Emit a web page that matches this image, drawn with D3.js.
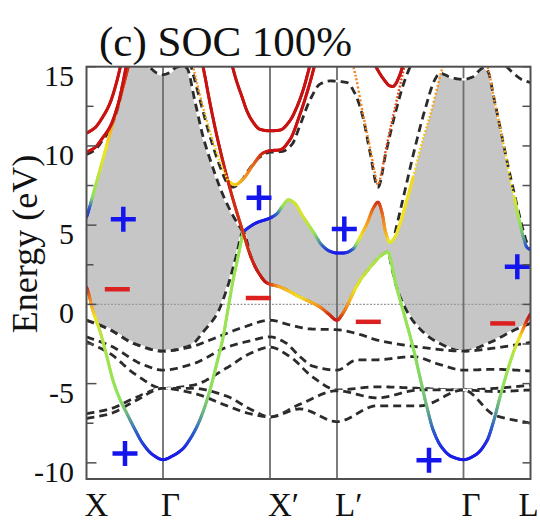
<!DOCTYPE html>
<html><head><meta charset="utf-8">
<script src="https://cdn.jsdelivr.net/npm/d3@7/dist/d3.min.js"></script>
<style>html,body{margin:0;padding:0;background:#fff}svg{display:block}</style>
</head><body>
<svg id="c" width="540" height="526"></svg>
<script>
// ---------------- data ----------------
// k-path distance (arbitrary units) of high-symmetry points
const kPoints = [0, 76.5, 183.5, 250.5, 377, 444];
const kLabels = ["X", "Γ", "X′", "L′", "Γ", "L"];
const yMajor = [-10, -5, 0, 5, 10, 15];
const yMinor = [-7.5, -2.5, 2.5, 7.5, 12.5];
const titleText = "(c) SOC 100%";
const yTitle = "Energy (eV)";

// shaded region: [k, E]
const grayTop = [[0,5.5],[2.5,6.0],[6,6.8],[13.5,8.5],[20.5,10.1],[26.5,11.5],[33.5,13.0],[43,15.3],[50,15.8],[57,15.4],[63.5,14.95],[70,14.62],[76.5,14.5],[83,14.62],[89.5,14.95],[96.5,15.05],[100.5,14.9],[108.5,12.8],[116.5,10.6],[126.5,8.6],[136.5,6.9],[146.5,5.6],[156.5,4.56],[160,4.75],[170,5.15],[183.5,5.45],[190,5.7],[196,6.2],[202,6.6],[208,6.4],[216,5.6],[226.5,4.6],[236,3.7],[243.5,3.35],[250.5,3.24],[258,3.25],[266.5,3.5],[274,4.3],[280.5,5.1],[287,6.1],[291.5,6.45],[295.5,5.8],[299,4.6],[303.5,3.9],[308,4.2],[313.5,5.1],[320,6.5],[326.5,8.0],[335,10.1],[343.5,11.9],[350,13.5],[353.5,14.5],[358,14.5],[365,14.3],[377,14.2],[386,14.35],[393.5,14.8],[397.5,14.95],[401.5,14.7],[407.5,13.1],[413.5,11.3],[419.5,9.3],[425.5,7.35],[433.5,5.2],[440.5,3.6],[444,3.5]];
const grayBottom = [[0,1.1],[2.5,0.6],[5.5,-0.2],[9,-0.9],[13.5,-1.3],[23.5,-1.6],[48.5,-2.5],[76.5,-2.95],[103.5,-2.6],[118.5,-1.6],[130.5,-0.6],[141.5,1.2],[149.5,3.0],[156.5,4.56],[165,2.9],[172,2.0],[180.5,1.35],[193.5,1.1],[213.5,0.46],[233.5,-0.17],[242,-0.6],[250.5,-1.0],[255,-0.7],[260.5,-0.1],[266.5,0.7],[273.5,1.5],[280.5,2.1],[288.5,2.7],[295,3.1],[301.5,3.3],[305,2.4],[309.5,1.2],[318.5,-0.2],[328.5,-1.2],[348.5,-2.3],[377,-2.95],[403.5,-2.4],[428.5,-1.6],[444,-1.2]];

// black dashed bands: [k, E]
const dashUp1 = [[43,15.4],[50,15.6],[57,15.35],[63.5,14.95],[70,14.62],[76.5,14.5],[83,14.62],[89.5,14.95],[96.5,15.05],[100.5,14.9],[108.5,12.8],[116.5,10.6],[126.5,8.6],[136.5,6.9],[146.5,5.6],[156.5,4.56]];
const dashUp2 = [[103.5,15.3],[113.5,12.9],[123.5,10.6],[133.5,8.7],[140.5,7.7],[146.5,7.4],[153.5,7.7],[163.5,8.6],[173.5,9.3],[183.5,9.6],[195.5,9.65],[205.5,10.1],[213.5,11.3],[223.5,12.9],[233.5,13.9],[243.5,14.1],[260.5,14.0],[268.5,13.3],[276.5,11.8],[283.5,9.6],[291.5,7.4],[299.5,9.6],[308.5,12.0],[317.5,14.0],[325.5,15.3]];
const dashUp3 = [[308.5,4.5],[318.5,7.2],[328.5,9.9],[338.5,12.3],[348.5,14.2],[353.5,14.6],[358,14.5],[365,14.3],[377,14.2],[386,14.35],[393.5,14.8],[397.5,14.95],[401.5,14.7],[407.5,13.0],[413.5,11.2],[420,9.2],[430.5,6.25],[437,4.6],[440.5,3.9],[444,3.6]];
const dashUp4 = [[410,15.6],[418.5,15.1],[428.5,14.5],[436.5,14.15],[444,14.0]];
const dashUp5 = [[0,9.45],[8.5,9.75],[16,10.35],[23.5,11.05],[31.5,12.45],[36.5,13.85],[40.5,15.2]];
const dashV1 = [[0,-1.0],[13.5,-1.3],[23.5,-1.6],[48.5,-2.5],[76.5,-2.95],[103.5,-2.6],[118.5,-1.6],[130.5,-0.6],[141.5,1.2],[149.5,3.0],[156.5,4.56],[165,2.9],[172,2.0],[180.5,1.35],[193.5,1.1],[213.5,0.46],[233.5,-0.17],[242,-0.6],[250.5,-1.0],[255,-0.7],[260.5,-0.1],[266.5,0.7],[273.5,1.5],[280.5,2.1],[288.5,2.7],[295,3.1],[301.5,3.3],[305,2.4],[309.5,1.2],[318.5,-0.2],[328.5,-1.2],[348.5,-2.3],[377,-2.95],[403.5,-2.4],[428.5,-1.6],[444,-1.2]];
const dashV2 = [[0,-1.0],[23.5,-1.6],[48.5,-2.5],[76.5,-2.95],[103.5,-2.7],[123.5,-2.25],[156.5,-1.45],[183.5,-1.0],[203.5,-1.3],[223.5,-1.55],[250.5,-1.6],[273.5,-1.9],[290.5,-2.25],[333.5,-2.7],[377,-2.95],[408.5,-2.75],[444,-2.4]];
const dashV3 = [[0,-2.05],[23.5,-2.6],[56.5,-3.8],[76.5,-4.15],[106.5,-3.75],[140.5,-2.7],[163.5,-2.3],[183.5,-2.05],[198.5,-2.4],[213.5,-3.3],[226.5,-3.9],[250.5,-4.15],[270.5,-3.5],[288.5,-3.5],[326.5,-3.3],[353.5,-3.8],[377,-4.15],[408.5,-4.1],[444,-4.2]];
const dashV4 = [[0,-2.35],[23.5,-3.1],[48.5,-4.4],[76.5,-5.3],[106.5,-5.1],[140.5,-4.0],[163.5,-3.1],[183.5,-2.7],[203.5,-3.3],[226.5,-4.6],[250.5,-5.4],[290.5,-5.2],[333.5,-5.3],[377,-5.4],[408.5,-5.3],[444,-5.1]];
const dashV5 = [[0,-6.9],[23.5,-6.6],[48.5,-5.9],[76.5,-5.3],[106.5,-5.3],[140.5,-5.8],[163.5,-6.6],[183.5,-7.1],[213.5,-6.3],[250.5,-5.45],[290.5,-5.9],[333.5,-5.4],[377,-5.4],[408.5,-5.5],[444,-5.4]];
const dashV6 = [[0,-7.2],[23.5,-6.9],[48.5,-6.1],[76.5,-5.3],[106.5,-5.6],[140.5,-6.4],[163.5,-6.9],[183.5,-7.1],[213.5,-6.6],[250.5,-7.4],[290.5,-6.4],[333.5,-6.4],[377,-5.4],[408.5,-7.0],[444,-7.5]];

// coloured (orbital-weighted) bands: [k, E, weight 0=blue .. 1=red]
const bandLeftEdge = [[0,5.5,0.0],[2.5,6.0,0.12],[6,6.8,0.35],[13.5,8.5,0.47],[20.5,10.1,0.56],[26.5,11.5,0.72],[33.5,13.0,0.85],[43,15.3,0.95]];
const bandRed1 = [[0,10.8,1],[8.5,11.15,1],[16,11.8,1],[23.5,12.7,1],[30,14.0,1],[35,15.3,1]];
const bandRed2 = [[0,9.6,1],[8.5,9.9,1],[16,10.5,1],[23.5,11.2,1],[31.5,12.6,1],[36.5,14.0,1],[40.5,15.3,1]];
const bandLow = [[0,1.1,1.0],[2.5,0.6,0.85],[5.5,-0.2,0.68],[9,-0.9,0.55],[13.5,-1.7,0.45],[20,-3.2,0.4],[26.5,-4.8,0.38],[33.5,-6.0,0.36],[40.5,-6.9,0.3],[48.5,-7.9,0.2],[56.5,-8.8,0.1],[66.5,-9.5,0.02],[76.5,-9.8,0.0],[86.5,-9.55,0.0],[96.5,-9.1,0.03],[103.5,-8.5,0.1],[110.5,-7.7,0.2],[117,-6.7,0.3],[123.5,-5.4,0.35],[130,-3.8,0.37],[136.5,-2.1,0.38],[141.5,-0.3,0.38],[146.5,1.5,0.38],[151.5,3.0,0.38],[156.5,4.56,0.37]];
const bandGap = [[156.5,4.56,0.1],[160,4.75,0.05],[170,5.15,0.0],[183.5,5.45,0.0],[190,5.7,0.15],[196,6.2,0.35],[202,6.6,0.42],[208,6.4,0.48],[216,5.6,0.5],[226.5,4.6,0.4],[236,3.7,0.2],[243.5,3.35,0.05],[250.5,3.24,0.0],[258,3.25,0.0],[266.5,3.5,0.15],[274,4.3,0.55],[280.5,5.1,0.7],[287,6.1,0.85],[291.5,6.45,0.95],[295.5,5.8,0.85],[299,4.6,0.7],[303.5,3.9,0.5],[308,4.2,0.52],[313.5,5.1,0.55],[320,6.5,0.56],[326.5,8.0,0.58]];
const bandGapTop = [[326.5,8.0,0.58],[335,10.1,0.62],[343.5,11.9,0.68],[350,13.5,0.72],[356.5,15.1,0.76]];
const bandCross = [[113.5,15.8,1.0],[116.5,15.0,1.0],[123.5,12.7,1.0],[130.5,10.6,1.0],[143.5,7.3,0.96],[156.5,4.56,0.93],[165,2.9,0.96],[172,2.0,0.98],[180.5,1.35,1.0],[193.5,1.1,0.7],[213.5,0.46,0.56],[233.5,-0.17,0.75],[242,-0.6,0.92],[250.5,-1.0,1.0],[255,-0.7,0.9],[260.5,-0.1,0.75],[266.5,0.7,0.6],[273.5,1.5,0.5],[280.5,2.1,0.45],[288.5,2.7,0.42],[295,3.1,0.4],[301.5,3.3,0.38],[304.5,2.7,0.38],[308.5,1.5,0.37],[317.5,-0.6,0.37],[326.5,-2.7,0.36],[333.5,-4.6,0.34],[340.5,-6.5,0.3],[346.5,-7.9,0.18],[355,-9.0,0.05],[365,-9.6,0.0],[377,-9.8,0.0],[389,-9.5,0.0],[400.5,-8.6,0.05],[407,-7.4,0.2],[413.5,-5.85,0.33],[420,-4.4,0.38],[426.5,-3.1,0.42],[433.5,-2.0,0.55],[437,-1.5,0.75],[440.5,-1.0,0.95],[444,-0.6,1.0]];
const bandUpOrange = [[105.5,15.3,0.78],[113.5,13.2,0.72],[123.5,10.9,0.64],[133.5,9.0,0.58],[141.5,7.8,0.55]];
const bandUpX = [[141.5,7.8,0.55],[148.5,7.55,0.6],[156.5,7.9,0.7],[166.5,8.8,0.82],[176.5,9.55,0.95],[183.5,9.7,1.0],[193.5,9.75,1.0],[203.5,10.4,1.0],[213.5,12.0,1.0],[223.5,14.0,1.0],[229,15.3,1.0]];
const bandU1 = [[145.5,15.1,1],[150,14.1,1],[155.5,13.1,1],[160.5,12.2,1],[165.5,11.6,1],[173.5,11.05,1],[183.5,10.95,1],[193.5,11.0,1],[203.5,11.6,1],[210,12.4,1],[216.5,13.5,1],[223.5,15.1,1]];
const bandV = [[264,15.6,0.78],[268.5,14.6,0.78],[276.5,12.0,0.77],[283.5,9.9,0.76],[288,8.4,0.78],[291.5,7.55,0.82],[295,8.3,0.85],[299.5,9.8,0.88],[308.5,12.4,0.9],[318.5,15.2,0.9]];
const bandU2 = [[288.5,15.1,1],[294,14.5,1],[298.5,14.1,1],[303,13.8,1],[306.5,13.75,1],[309,13.9,1],[311.5,14.2,1],[314,14.6,1],[316.5,15.1,1]];
const bandRightTop = [[398.5,15.4,0.8],[401.5,14.9,0.78],[407.5,13.0,0.74],[413.5,11.2,0.7],[419.5,9.3,0.62],[425.5,7.35,0.55],[428,6.7,0.5]];
const bandRightLow = [[428,6.7,0.5],[430,6.1,0.45],[433.5,5.1,0.37],[437,4.2,0.28],[440.5,3.6,0.15],[444,3.45,0.08]];

// parity labels: [k, E]
const plusMarks = [[36.8,5.38],[172.5,6.73],[257.8,4.75],[430.8,2.37],[38.5,-9.41],[342.5,-9.83]];
const minusMarks = [[30.8,0.95],[171.8,0.4],[281.8,-1.1],[416.2,-1.2]];

// ---------------- drawing ----------------
const svg = d3.select("#c");
const L = 86.5, R = 530.5, T = 66.7, B = 479;
const x = d3.scaleLinear().domain([0, 444]).range([L, R]);
const y = d3.scaleLinear().domain([-11.02, 15]).range([B, T]);
const color = d3.scaleLinear()
  .domain([0, 0.18, 0.36, 0.55, 0.75, 1])
  .range(["#1a1ae8", "#2f64c8", "#8fe35a", "#f2e51e", "#f5901f", "#c91212"]);

function makeInterp(pts) {
  const n = pts.length, X = pts.map(p => p[0]), Y = pts.map(p => p[1]);
  const dx = [], m = [];
  for (let i = 0; i < n - 1; i++) { dx.push(X[i+1] - X[i]); m.push((Y[i+1] - Y[i]) / dx[i]); }
  const c = [m[0]];
  for (let i = 1; i < n - 1; i++) {
    if (m[i-1] * m[i] <= 0) c.push(0);
    else { const cm = dx[i-1] + dx[i]; c.push(3 * cm / ((cm + dx[i]) / m[i-1] + (cm + dx[i-1]) / m[i])); }
  }
  c.push(m[n-2]);
  return s => {
    if (s <= X[0]) return Y[0];
    if (s >= X[n-1]) return Y[n-1];
    let i = d3.bisectRight(X, s) - 1; if (i > n - 2) i = n - 2;
    const h = dx[i], t = (s - X[i]) / h, t2 = t*t, t3 = t2*t;
    return (2*t3 - 3*t2 + 1) * Y[i] + (t3 - 2*t2 + t) * h * c[i] + (-2*t3 + 3*t2) * Y[i+1] + (t3 - t2) * h * c[i+1];
  };
}
function sample(pts, step) {
  const f = makeInterp(pts), a = pts[0][0], b = pts[pts.length-1][0], out = [];
  for (let s = a; s < b; s += step) out.push([s, f(s)]);
  out.push([b, f(b)]);
  return out;
}

svg.append("defs").append("clipPath").attr("id", "clip")
  .append("rect").attr("x", L).attr("y", T).attr("width", R - L).attr("height", B - T);
const plot = svg.append("g").attr("clip-path", "url(#clip)");

// shaded region
const fTop = makeInterp(grayTop), fBot = makeInterp(grayBottom);
const grid = d3.range(0, 444.01, 0.5);
plot.append("path")
  .attr("d", d3.area().x(s => x(s)).y0(s => y(fBot(s))).y1(s => y(fTop(s)))(grid))
  .attr("fill", "#c6c6c6");

// zero line
plot.append("line").attr("x1", L).attr("x2", R).attr("y1", y(0)).attr("y2", y(0))
  .attr("stroke", "#9a9a9a").attr("stroke-width", 1.3).attr("stroke-dasharray", "2,1.5");

// vertical lines
plot.selectAll(null).data(kPoints.slice(1, -1)).join("line")
  .attr("x1", d => x(d)).attr("x2", d => x(d)).attr("y1", T).attr("y2", B)
  .attr("stroke", "#6e6e6e").attr("stroke-width", 1.8);

// dashed bands
const dashed = [dashUp1, dashUp2, dashUp3, dashUp4, dashUp5, dashV1, dashV2, dashV3, dashV4, dashV5, dashV6];
const lineGen = d3.line().x(d => x(d[0])).y(d => y(d[1]));
dashed.forEach(b => {
  const d = lineGen(sample(b, 0.5));
  plot.append("path").attr("d", d).attr("fill", "none").attr("stroke", "#fff").attr("stroke-width", 2.2);
  plot.append("path").attr("d", d).attr("fill", "none").attr("stroke", "#2b2b2b")
    .attr("stroke-width", 2.8).attr("stroke-dasharray", "8,5");
});

// coloured bands
function drawColored(pts, dotted) {
  const f = makeInterp(pts.map(p => [p[0], p[1]]));
  const wf = d3.scaleLinear().domain(pts.map(p => p[0])).range(pts.map(p => p[2])).clamp(true);
  const a = pts[0][0], b = pts[pts.length-1][0];
  const P = [];
  for (let s = a; s < b; s += 0.1) P.push([x(s), y(f(s)), wf(s)]);
  P.push([x(b), y(f(b)), wf(b)]);
  const segLen = dotted ? 1.7 : 1.5, segs = [];
  let start = 0, acc = 0, k = 0;
  for (let i = 1; i < P.length; i++) {
    acc += Math.hypot(P[i][0] - P[i-1][0], P[i][1] - P[i-1][1]);
    if (acc >= segLen || i === P.length - 1) {
      segs.push({ pts: P.slice(start, i + 1), w: (P[start][2] + P[i][2]) / 2, k: k++ });
      start = i; acc = 0;
    }
  }
  const use = dotted ? segs.filter(s => s.k % 2 === 0) : segs;
  plot.append("g").selectAll("path").data(use).join("path")
    .attr("d", d => d3.line()(d.pts.map(p => [p[0], p[1]])))
    .attr("fill", "none").attr("stroke", d => color(d.w))
    .attr("stroke-width", dotted ? 2.4 : 3).attr("stroke-linecap", dotted ? "butt" : "round");
}
[bandUpX, bandLeftEdge, bandLow, bandGap, bandCross, bandRightLow].forEach(b => drawColored(b, false));
[bandUpOrange, bandV, bandGapTop, bandRightTop].forEach(b => drawColored(b, true));
[bandRed1, bandRed2, bandU1, bandU2].forEach(b => drawColored(b, false));

// parity markers
const hs = 12.5;
plot.selectAll(null).data(plusMarks).join("path")
  .attr("d", d => `M${x(d[0]) - hs},${y(d[1])}H${x(d[0]) + hs}M${x(d[0])},${y(d[1]) - hs}V${y(d[1]) + hs}`)
  .attr("stroke", "#1414ee").attr("stroke-width", 4.5).attr("fill", "none");
plot.selectAll(null).data(minusMarks).join("path")
  .attr("d", d => `M${x(d[0]) - hs},${y(d[1])}H${x(d[0]) + hs}`)
  .attr("stroke", "#dc2020").attr("stroke-width", 4.5).attr("fill", "none");

// frame and ticks
svg.append("rect").attr("x", L).attr("y", T).attr("width", R - L).attr("height", B - T)
  .attr("fill", "none").attr("stroke", "#505050").attr("stroke-width", 2);
const tk = svg.append("g").attr("stroke", "#505050").attr("stroke-width", 1.5);
yMajor.concat(yMinor).forEach(v => {
  const len = yMajor.includes(v) ? 10 : 7;
  tk.append("line").attr("x1", L).attr("x2", L + len).attr("y1", y(v)).attr("y2", y(v));
  tk.append("line").attr("x1", R).attr("x2", R - 8).attr("y1", y(v)).attr("y2", y(v));
});

const font = "'Liberation Serif','Times New Roman',serif";
svg.selectAll(null).data(yMajor).join("text")
  .attr("x", 74).attr("y", d => y(d) + 19).attr("text-anchor", "end")
  .attr("font-family", font).attr("font-size", 30).attr("fill", "#111").text(d => d);
svg.selectAll(null).data(kPoints).join("text")
  .attr("x", (d, i) => i === kPoints.length - 1 ? x(d) - 12 : x(d) - 2).attr("y", 516)
  .attr("font-family", font).attr("font-size", 33).attr("fill", "#111")
  .text((d, i) => kLabels[i]);
svg.append("text").attr("transform", "translate(37,244) rotate(-90)").attr("text-anchor", "middle")
  .attr("font-family", font).attr("font-size", 36).attr("fill", "#111").text(yTitle);
svg.append("text").attr("x", 99).attr("y", 56)
  .attr("font-family", font).attr("font-size", 43).attr("fill", "#111").text(titleText);
</script>
</body></html>
